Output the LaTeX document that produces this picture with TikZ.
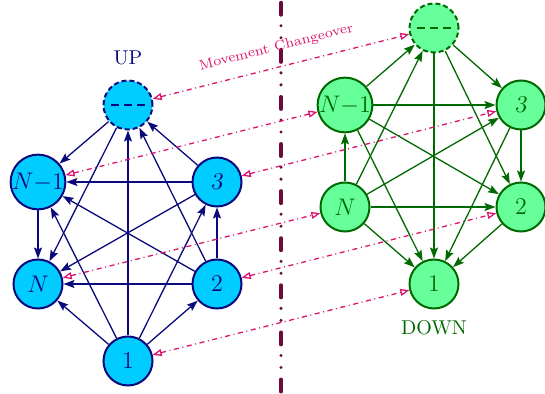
\documentclass[tikz,border=0pt]{standalone}
\usetikzlibrary{arrows.meta}
\definecolor{upfill}{RGB}{0,204,255}
\definecolor{updraw}{RGB}{10,10,125}
\definecolor{dnfill}{RGB}{102,255,153}
\definecolor{dndraw}{RGB}{0,105,0}
\definecolor{mvpink}{RGB}{220,20,110}
\definecolor{divcol}{RGB}{110,10,55}
\newcommand{\threedash}{\rule[-0.5pt]{4pt}{1pt}\hspace{2.5pt}\rule[-0.5pt]{4pt}{1pt}\hspace{2.5pt}\rule[-0.5pt]{4pt}{1pt}}
\begin{document}
\begin{tikzpicture}[x=0.5pt,y=-0.5pt,
  state/.style={circle, minimum size=24.5pt, inner sep=0pt, line width=1pt, font=\fontsize{12}{14}\selectfont},
  upnode/.style={state, draw=updraw, fill=upfill, text=updraw},
  dnnode/.style={state, draw=dndraw, fill=dnfill, text=dndraw},
  ghost/.style={dash pattern=on 2.5pt off 1.5pt},
  tip/.style={-{Stealth[length=5.5pt,width=4pt,inset=1pt]}},
  upedge/.style={draw=updraw, line width=0.65pt, tip},
  dnedge/.style={draw=dndraw, line width=0.65pt, tip},
  move/.style={draw=mvpink, line width=0.65pt, dash pattern=on 2.5pt off 1.8pt on 0.5pt off 1.8pt,
    {Triangle[open,length=4.5pt,width=3.5pt]}-{Triangle[open,length=4.5pt,width=3.5pt]}},
  divider/.style={draw=divcol, line width=1.7pt, line cap=round,
    dash pattern=on 6.25pt off 5.4pt on 0pt off 6pt on 0pt off 5.9pt},
  title/.style={font=\fontsize{10}{12}\selectfont}
]
\useasboundingbox (0,0) rectangle (545,394);

% divider
\coordinate (dtop) at (281,2.5);
\coordinate (dbot) at (281,394);
\draw[divider] (dtop) -- (dbot);

% UP graph
\node[upnode, ghost] (u0) at (128,105) {\threedash};
\node[upnode] (uN1) at (38,182) {$N{-}1$};
\node[upnode] (u3) at (217,182) {\textsl{3}};
\node[upnode] (uN) at (38,284) {$N$};
\node[upnode] (u2) at (217,284) {$2$};
\node[upnode] (u1) at (128,361) {$1$};
\node[title, text=updraw] (uplabel) at (128,58) {UP};

\draw[upedge] (u1) -- (uN);
\draw[upedge] (u1) -- (u2);
\draw[upedge] (u1) -- (uN1);
\draw[upedge] (u1) -- (u3);
\draw[upedge] (u1) -- (u0);
\draw[upedge] (u2) -- (u3);
\draw[upedge] (u2) -- (uN);
\draw[upedge] (u2) -- (uN1);
\draw[upedge] (u2) -- (u0);
\draw[upedge] (u3) -- (uN);
\draw[upedge] (u3) -- (uN1);
\draw[upedge] (u3) -- (u0);
\draw[upedge] (u0) -- (uN1);
\draw[upedge] (u0) -- (uN);
\draw[upedge] (uN1) -- (uN);

% DOWN graph
\node[dnnode, ghost] (d0) at (434,28) {\threedash};
\node[dnnode] (dN1) at (345,105) {$N{-}1$};
\node[dnnode] (d3) at (521,105) {\textsl{3}};
\node[dnnode] (dN) at (345,207) {$N$};
\node[dnnode] (d2) at (521,207) {$2$};
\node[dnnode] (d1) at (434,284) {$1$};
\node[title, text=dndraw] (dnlabel) at (434,328) {DOWN};

\draw[dnedge] (dN) -- (d0);
\draw[dnedge] (dN) -- (dN1);
\draw[dnedge] (dN) -- (d3);
\draw[dnedge] (dN) -- (d2);
\draw[dnedge] (dN) -- (d1);
\draw[dnedge] (dN1) -- (d0);
\draw[dnedge] (dN1) -- (d3);
\draw[dnedge] (dN1) -- (d2);
\draw[dnedge] (dN1) -- (d1);
\draw[dnedge] (d0) -- (d3);
\draw[dnedge] (d0) -- (d2);
\draw[dnedge] (d0) -- (d1);
\draw[dnedge] (d3) -- (d2);
\draw[dnedge] (d3) -- (d1);
\draw[dnedge] (d2) -- (d1);

% movement changeover
\draw[move] (u0) -- node[midway, above=3pt, sloped, text=mvpink, font=\fontsize{7}{8}\selectfont] {Movement Changeover} (d0);
\draw[move] (uN1) -- (dN1);
\draw[move] (u3) -- (d3);
\draw[move] (uN) -- (dN);
\draw[move] (u2) -- (d2);
\draw[move] (u1) -- (d1);
\end{tikzpicture}
\end{document}
